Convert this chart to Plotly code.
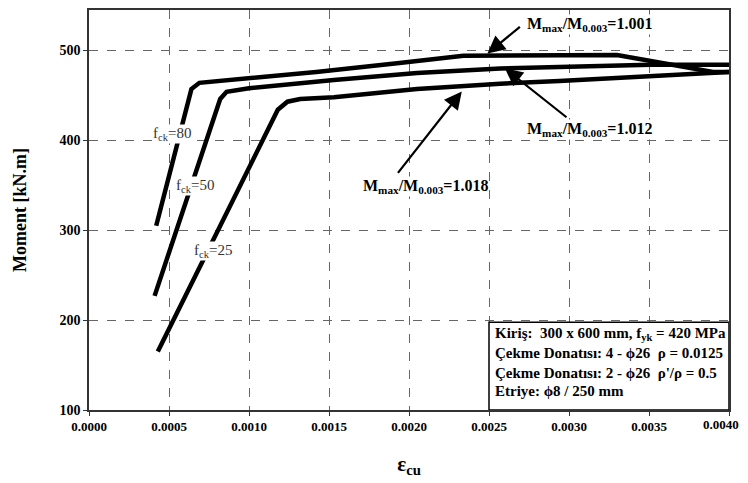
import plotly.graph_objects as go

# Data
eps80 = [0.00042, 0.00064, 0.00069, 0.00100, 0.00142, 0.00194, 0.00234, 0.00330, 0.00390, 0.00400]
m80 = [305, 457, 464, 469, 476, 486, 494, 495, 476, 476]
eps50 = [0.00041, 0.00082, 0.00086, 0.00100, 0.00153, 0.00205, 0.00257, 0.00351, 0.00400]
m50 = [227, 446, 454, 458, 467, 475, 480, 484, 484]
eps25 = [0.00043, 0.00118, 0.00124, 0.00132, 0.00153, 0.00205, 0.00257, 0.00294, 0.00400]
m25 = [165, 434, 443, 446, 448, 457, 463, 466, 476]

x_ticks = [0.0, 0.0005, 0.0010, 0.0015, 0.0020, 0.0025, 0.0030, 0.0035, 0.0040]
x_tick_text = ["0.0000", "0.0005", "0.0010", "0.0015", "0.0020", "0.0025", "0.0030", "0.0035", ""]
last_tick_text = "0.0040"
y_ticks = [100, 200, 300, 400, 500]

curve_labels = ["f<sub>ck</sub>=80", "f<sub>ck</sub>=50", "f<sub>ck</sub>=25"]
ratio_labels = ["M<sub>max</sub>/M<sub>0.003</sub>=1.001",
                "M<sub>max</sub>/M<sub>0.003</sub>=1.012",
                "M<sub>max</sub>/M<sub>0.003</sub>=1.018"]
info_lines = ["Kiriş:  300 x 600 mm, f<sub>yk</sub> = 420 MPa",
              "Çekme Donatısı: 4 - ϕ26  ρ = 0.0125",
              "Çekme Donatısı: 2 - ϕ26  ρ'/ρ = 0.5",
              "Etriye: ϕ8 / 250 mm"]

SERIF = "Liberation Serif"

fig = go.Figure()
for xs, ys in [(eps80, m80), (eps50, m50), (eps25, m25)]:
    fig.add_trace(go.Scatter(x=xs, y=ys, mode="lines",
                             line=dict(color="black", width=4.5),
                             showlegend=False, hoverinfo="skip"))

# curve labels
for txt, (lx, ly) in zip(curve_labels, [(0.000519, 406.7), (0.000663, 349), (0.000775, 277)]):
    fig.add_annotation(x=lx, y=ly, text=txt, showarrow=False,
                       font=dict(family=SERIF, size=15, color="#333"),
                       bgcolor="white", borderpad=0)

# ratio labels with arrows
arrows = [((0.00249, 496.5), 34, -28), ((0.0026, 480), 63, 50), ((0.00233, 454.4), -65, 83)]
for (hx, hy), ax, ay in arrows:
    fig.add_annotation(x=hx, y=hy, ax=ax, ay=ay, text="", showarrow=True,
                       arrowhead=2, arrowsize=1.6, arrowwidth=2.2, arrowcolor="black")
for txt, (tx, ty) in zip(ratio_labels, [(0.003125, 528.6), (0.003125, 412), (0.0021, 349)]):
    fig.add_annotation(x=tx, y=ty, text=txt, showarrow=False,
                       font=dict(family=SERIF, size=16, color="black", weight="bold"),
                       bgcolor="white", borderpad=0)

# info box
fig.add_shape(type="rect", x0=0.0025, x1=0.0040, y0=100, y1=197.5,
              line=dict(color="black", width=1.5), fillcolor="white", layer="above")
for txt, ty in zip(info_lines, [184, 163, 141, 121]):
    fig.add_annotation(x=0.002525, y=ty, text=txt, showarrow=False, xanchor="left",
                       font=dict(family=SERIF, size=15, color="black", weight="bold"))

# last x tick label kept inside the page
fig.add_annotation(x=x_ticks[-1], y=0, xref="x", yref="paper", yanchor="top",
                   xanchor="right", xshift=12, yshift=-5, text=last_tick_text,
                   showarrow=False,
                   font=dict(family=SERIF, size=13, color="black", weight="bold"))

fig.update_layout(
    width=740, height=475,
    margin=dict(l=81, r=19, t=0, b=73),
    plot_bgcolor="white", paper_bgcolor="white",
    xaxis=dict(range=[0, 0.0040], tickvals=x_ticks, ticktext=x_tick_text,
               showgrid=True, gridcolor="#666", griddash="dash", gridwidth=1,
               showline=True, linecolor="#333", linewidth=1.5, mirror=True,
               ticks="outside", ticklen=4, tickcolor="#333",
               tickfont=dict(family=SERIF, size=13, color="black", weight="bold"),
               title=dict(text="ε<sub>cu</sub>", standoff=23,
                          font=dict(family=SERIF, size=21, color="black", weight="bold")),
               zeroline=False),
    yaxis=dict(range=[100, 545], tickvals=y_ticks,
               showgrid=True, gridcolor="#666", griddash="dash", gridwidth=1,
               showline=True, linecolor="#333", linewidth=1.5, mirror=True,
               ticks="outside", ticklen=4, tickcolor="#333",
               tickfont=dict(family=SERIF, size=14, color="black", weight="bold"),
               title=dict(text="Moment [kN.m]", standoff=28,
                          font=dict(family=SERIF, size=18, color="black", weight="bold")),
               zeroline=False),
)

fig.write_html("out.html")
